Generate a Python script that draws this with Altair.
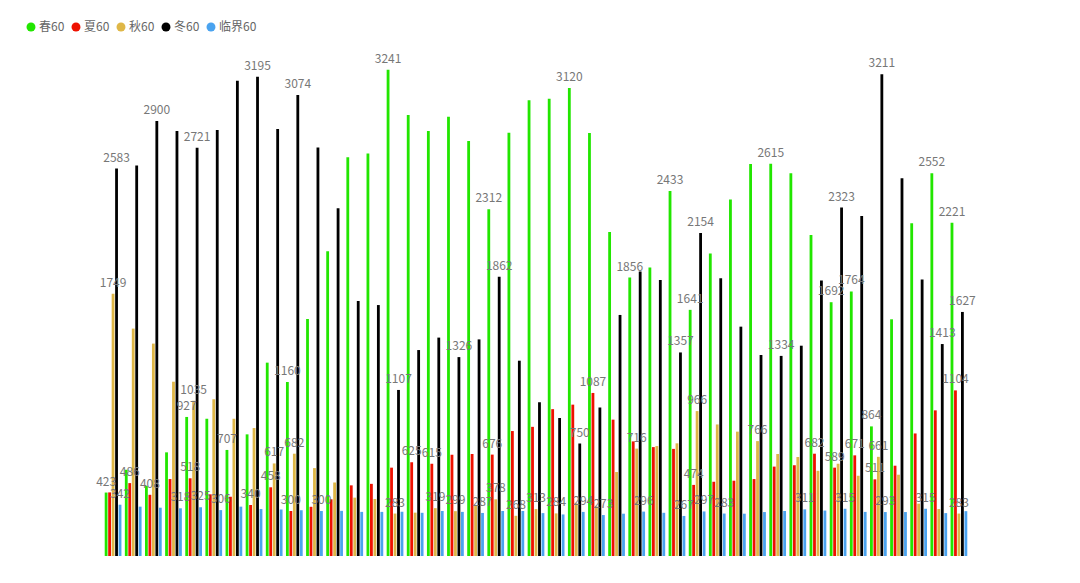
import altair as alt
import pandas as pd

series_names = ["春60", "夏60", "秋60", "冬60", "临界60"]
colors = ["#22e600", "#ee1100", "#dfb747", "#000000", "#4aa3ef"]

spring = [423, 575, 467, 691, 927, 915, 707, 811, 1289, 1160, 1580, 2031, 2658, 2684, 3241,
          2940, 2833, 2929, 2767, 2312, 2822, 3038, 3049, 3120, 2820, 2160, 1856, 1924, 2433, 1641,
          2016, 2376, 2613, 2615, 2551, 2140, 1692, 1764, 864, 1578, 2218, 2552, 2221]
summer = [424, 486, 408, 513, 518, 411, 395, 340, 458, 300, 328, 378, 471, 481, 589,
          625, 615, 675, 680, 676, 833, 861, 979, 1009, 1087, 909, 764, 726, 714, 474,
          495, 502, 513, 596, 605, 682, 589, 671, 511, 602, 817, 971, 1104]
autumn = [1749, 1516, 1416, 1162, 1035, 1045, 915, 853, 617, 682, 586, 490, 389, 380, 283,
          289, 319, 299, 340, 378, 268, 313, 284, 351, 330, 560, 716, 733, 751, 966,
          877, 829, 766, 680, 660, 568, 615, 535, 661, 542, 349, 313, 283]
winter = [2583, 2604, 2900, 2833, 2721, 2840, 3169, 3195, 2847, 3074, 2724, 2318, 1700, 1673, 1107,
          1373, 1456, 1326, 1444, 1862, 1302, 1025, 920, 750, 990, 1607, 1896, 1840, 1357, 2154,
          1851, 1529, 1340, 1334, 1402, 1836, 2323, 2267, 3211, 2518, 1844, 1413, 1627]
critical = [342, 329, 322, 318, 325, 306, 329, 313, 310, 305, 300, 301, 294, 294, 295,
            288, 300, 294, 287, 300, 300, 286, 277, 294, 273, 282, 296, 288, 267, 297,
            283, 282, 293, 300, 311, 303, 315, 294, 293, 293, 315, 286, 299]

# groups (1-based) whose value label is visible in the reference
shown_spring = [1, 5, 7, 10, 15, 20, 24, 27, 29, 30, 34, 37, 38, 39, 42, 43]
shown_summer = [2, 3, 5, 8, 9, 10, 16, 17, 20, 25, 30, 36, 37, 38, 39, 43]
shown_autumn = [1, 5, 9, 10, 15, 17, 18, 20, 21, 22, 23, 27, 30, 33, 39, 43]
shown_winter = [1, 3, 5, 8, 10, 15, 18, 20, 24, 29, 30, 34, 37, 39, 42, 43]
shown_critical = [1, 4, 5, 6, 11, 19, 24, 25, 27, 29, 30, 31, 35, 37, 39, 41]

all_values = [spring, summer, autumn, winter, critical]
all_shown = [shown_spring, shown_summer, shown_autumn, shown_winter, shown_critical]

rows = []
for name, vals, shown in zip(series_names, all_values, all_shown):
    for i, v in enumerate(vals):
        rows.append({"group": i + 1, "series": name, "value": v, "show": (i + 1) in shown})
df = pd.DataFrame(rows)

font = "Noto Sans CJK SC"

x_enc = alt.X("group:O", axis=None,
              scale=alt.Scale(paddingInner=0.17, paddingOuter=0.085))
xo_enc = alt.XOffset("series:N", sort=series_names,
                     scale=alt.Scale(domain=series_names, paddingInner=0.19, paddingOuter=0))
y_enc = alt.Y("value:Q", axis=None, scale=alt.Scale(domain=[0, 3500], nice=False, zero=True))

bars = alt.Chart(df).mark_bar().encode(
    x=x_enc,
    xOffset=xo_enc,
    y=y_enc,
    color=alt.Color("series:N", sort=series_names,
                    scale=alt.Scale(domain=series_names, range=colors),
                    legend=alt.Legend(title=None, orient="none", direction="horizontal",
                                      legendX=-78, legendY=-10,
                                      symbolType="circle", symbolSize=80, symbolStrokeWidth=0,
                                      labelFont=font, labelFontSize=12, labelColor="#666",
                                      labelOffset=2, columnPadding=5)),
)

labels = alt.Chart(df).transform_filter("datum.show").mark_text(
    baseline="bottom", dy=-4, fontSize=12, font=font, color="#777"
).encode(
    x=x_enc,
    xOffset=xo_enc,
    y=y_enc,
    text=alt.Text("value:Q"),
)

chart = alt.layer(bars, labels).properties(
    width=866, height=525,
    autosize=alt.AutoSizeParams(type="none"),
    padding={"left": 95, "top": 23, "right": 40, "bottom": 5},
).configure_view(stroke=None)

chart.save("out.html", embed_options={"renderer": "svg", "actions": False})
